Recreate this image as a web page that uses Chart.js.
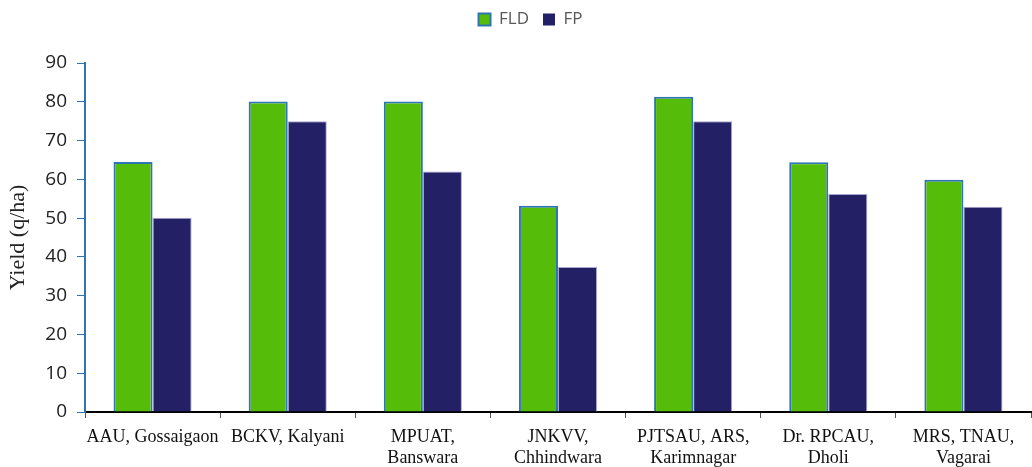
<!DOCTYPE html>
<html>
<head>
<meta charset="utf-8">
<script src="https://cdn.jsdelivr.net/npm/chart.js@4/dist/chart.umd.min.js"></script>
<style>
  html, body { margin: 0; padding: 0; background: #fff; }
  #wrap { width: 1032px; height: 467px; }
</style>
</head>
<body>
<div id="wrap"><canvas id="c" width="1032" height="467"></canvas></div>
<script>
// Centres and yields (q/ha)
const centres = [
  'AAU, Gossaigaon',
  'BCKV, Kalyani',
  ['MPUAT,', 'Banswara'],
  ['JNKVV,', 'Chhindwara'],
  ['PJTSAU, ARS,', 'Karimnagar'],
  ['Dr. RPCAU,', 'Dholi'],
  ['MRS, TNAU,', 'Vagarai']
];
const fldYield = [64.5, 80.1, 80.1, 53.2, 81.3, 64.4, 59.9];
const fpYield  = [50.1, 75.0, 62.0, 37.4, 75.0, 56.2, 52.9];
const yTicks = [0, 10, 20, 30, 40, 50, 60, 70, 80, 90];

// Nudge the legend block so it sits high and slightly right of centre
const legendShift = {
  id: 'legendShift',
  afterLayout(chart) {
    const lg = chart.legend;
    if (!lg) return;
    const dx = 15, dy = -25;
    lg.left += dx; lg.right += dx;
    lg.top += dy; lg.bottom += dy;
  }
};

new Chart(document.getElementById('c'), {
  type: 'bar',
  data: {
    labels: centres,
    datasets: [
      {
        label: 'FLD',
        data: fldYield,
        backgroundColor: '#56bc0a',
        borderColor: '#2e75b6',
        borderWidth: 2,
        borderSkipped: 'bottom'
      },
      {
        label: 'FP',
        data: fpYield,
        backgroundColor: '#232066',
        borderColor: '#a9a6cf',
        borderWidth: 1,
        borderSkipped: 'bottom'
      }
    ]
  },
  plugins: [legendShift],
  options: {
    responsive: false,
    animation: false,
    devicePixelRatio: 1,
    layout: { padding: { left: 0, right: 1, top: 22, bottom: 0 } },
    datasets: { bar: { barPercentage: 1.0, categoryPercentage: 0.578 } },
    plugins: {
      tooltip: { enabled: false },
      legend: {
        position: 'top',
        align: 'center',
        labels: {
          font: { family: 'Open Sans', size: 17 },
          color: '#595959',
          boxWidth: 12,
          boxHeight: 12,
          padding: 14,
          generateLabels(chart) {
            return chart.data.datasets.map((ds, i) => ({
              text: ds.label,
              fillStyle: ds.backgroundColor,
              strokeStyle: i === 0 ? '#2e75b6' : ds.backgroundColor,
              lineWidth: i === 0 ? 2 : 0,
              datasetIndex: i,
              fontColor: '#595959'
            }));
          }
        }
      }
    },
    scales: {
      x: {
        grid: {
          display: true,
          drawOnChartArea: false,
          drawTicks: true,
          tickLength: 6,
          color: '#555',
          offset: true
        },
        border: { display: true, color: '#000', width: 2 },
        ticks: {
          font: { family: 'Liberation Serif', size: 18, lineHeight: 1.2 },
          color: '#111',
          padding: 8,
          maxRotation: 0,
          autoSkip: false
        },
        afterFit(scale) { scale.height = 55; }
      },
      y: {
        min: 0,
        max: 90,
        afterBuildTicks(scale) { scale.ticks = yTicks.map(v => ({ value: v })); },
        grid: {
          display: true,
          drawOnChartArea: false,
          drawTicks: true,
          tickLength: 8,
          color: '#2e75b6'
        },
        border: { display: true, color: '#2e75b6', width: 2 },
        ticks: {
          font: { family: 'Open Sans', size: 19 },
          color: '#222',
          padding: 10
        },
        title: {
          display: true,
          text: 'Yield (q/ha)',
          font: { family: 'Liberation Serif', size: 22 },
          color: '#222',
          padding: { top: 5, bottom: 0 }
        },
        afterFit(scale) { scale.width = 85; }
      }
    }
  }
});
</script>
</body>
</html>
